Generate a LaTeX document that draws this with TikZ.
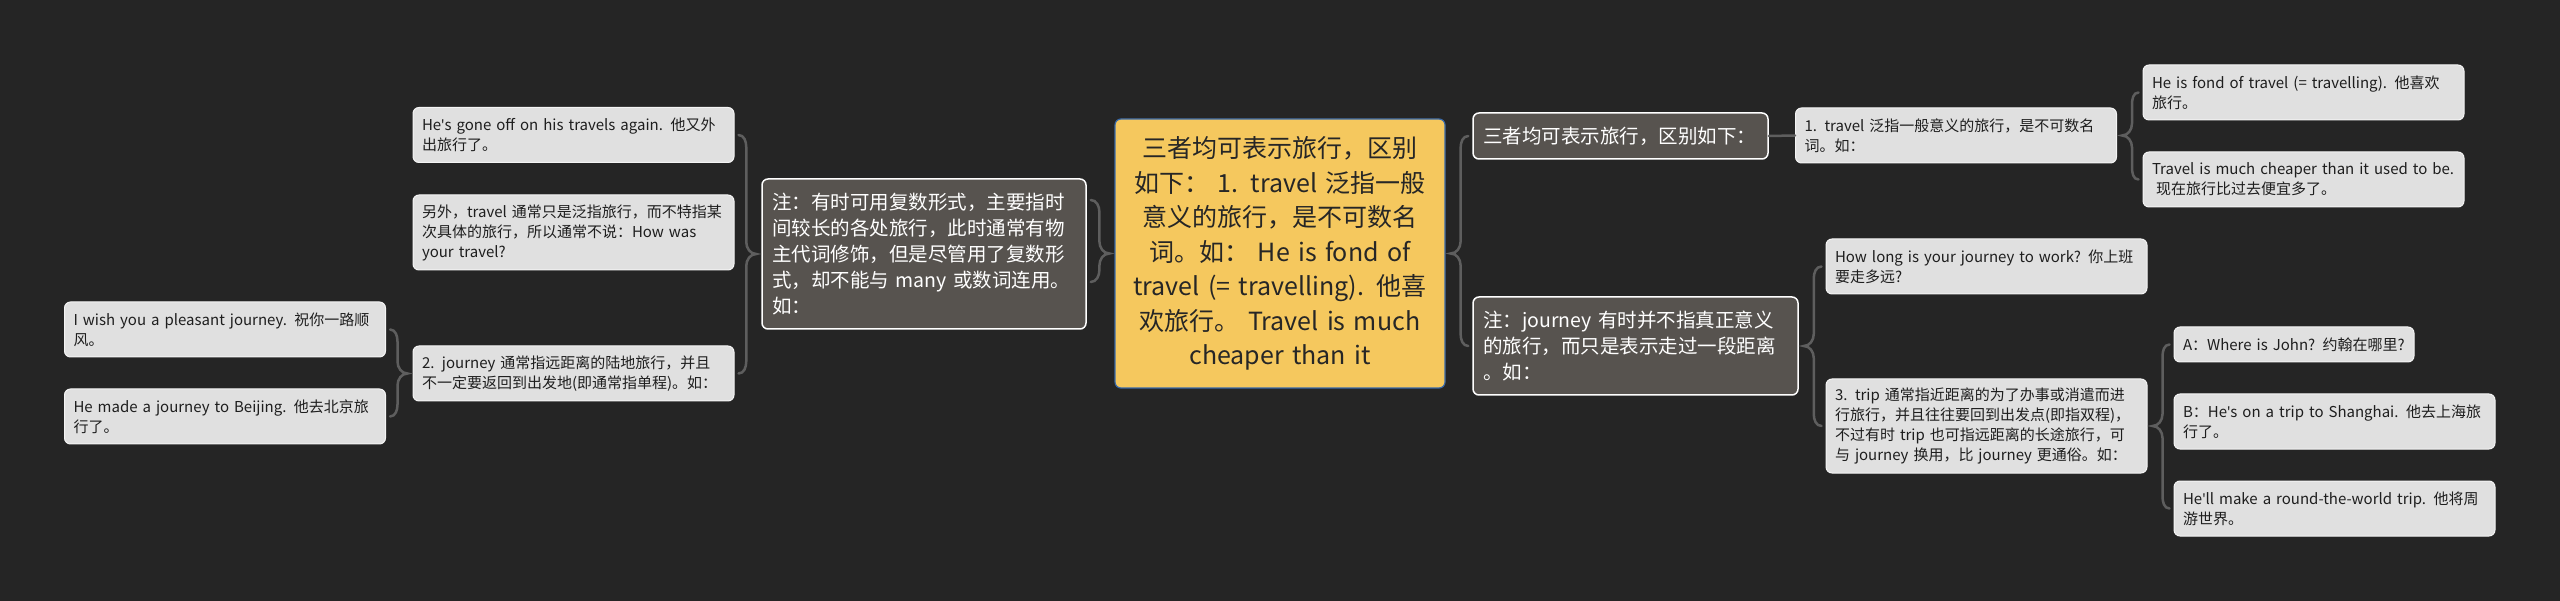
\documentclass[tikz,border=0pt]{standalone}
\usepackage{fontspec}
\setmainfont{Noto Sans CJK SC}
\newfontfamily\quotefont{Noto Sans}
\newcommand\apos{{\quotefont'}}
\usetikzlibrary{calc}

\definecolor{bggray}{HTML}{252525}
\definecolor{linkgray}{HTML}{5E5E5E}
\definecolor{rootfill}{HTML}{F5C85E}
\definecolor{rootline}{HTML}{3A6AA8}
\definecolor{darkfill}{HTML}{57534F}
\definecolor{leaffill}{HTML}{E0E0E0}
\definecolor{leafline}{HTML}{F4F4F4}
\definecolor{leaftext}{HTML}{1E1E1E}

% brace from a parent (#1) to children on its right, top child #2, bottom child #3
\newcommand\bracer[3]{%
  \draw[link] let \p1=#1, \p2=#2, \p3=#3 in
    (\x2-4pt,\y2) to[out=180,in=90] (\x1+15pt,\y2-12pt) -- (\x1+15pt,\y1+12pt)
    to[out=-90,in=0] (\x1+5pt,\y1) to[out=0,in=90] (\x1+15pt,\y1-12pt)
    -- (\x1+15pt,\y3+12pt) to[out=-90,in=180] (\x3-4pt,\y3);}
% the same with the children on the left
\newcommand\bracel[3]{%
  \draw[link] let \p1=#1, \p2=#2, \p3=#3 in
    (\x2+4pt,\y2) to[out=0,in=90] (\x1-15pt,\y2-12pt) -- (\x1-15pt,\y1+12pt)
    to[out=-90,in=180] (\x1-5pt,\y1) to[out=180,in=90] (\x1-15pt,\y1-12pt)
    -- (\x1-15pt,\y3+12pt) to[out=-90,in=0] (\x3+4pt,\y3);}

\begin{document}
\begin{tikzpicture}[x=1pt, y=-1pt,
  link/.style={draw=linkgray, line width=2.5pt, line cap=round},
  rootbox/.style={fill=rootfill, draw=rootline, line width=1.2pt, rounded corners=6pt,
    text=black!85, font=\fontsize{25}{34.5}\selectfont, align=center,
    inner xsep=10pt, inner ysep=0pt, text width=310pt, minimum height=269pt},
  darkbox/.style={fill=darkfill, draw=white, line width=1.5pt, rounded corners=6pt,
    text=white, font=\fontsize{19.5}{26}\selectfont, align=left,
    inner xsep=10pt, inner ysep=0pt},
  leafbox/.style={fill=leaffill, draw=leafline, line width=1pt, rounded corners=6pt,
    text=leaftext, font=\fontsize{15}{20}\selectfont, align=left,
    inner xsep=9pt, inner ysep=0pt, text width=303pt, minimum height=55pt}]
\fill[bggray] (0,0) rectangle (2560,601);
\useasboundingbox (0,0) rectangle (2560,601);

\node[rootbox] (root) at (1280,253.5) {三者均可表示旅行，区别\\如下： 1. travel 泛指一般\\意义的旅行，是不可数名\\词。如： He is fond of\\travel (= travelling). 他喜\\欢旅行。 Travel is much\\cheaper than it};

% left side
\node[darkbox, text width=304pt, minimum height=150pt] (lnote) at (924,254) {注：有时可用复数形式，主要指时\\间较长的各处旅行，此时通常有物\\主代词修饰，但是尽管用了复数形\\式，却不能与 many 或数词连用。\\如：};
\node[leafbox] (lgone) at (573.5,135) {He\apos s gone off on his travels again. 他又外\\出旅行了。};
\node[leafbox, minimum height=75pt] (lbesides) at (573.5,232.5) {另外，travel 通常只是泛指旅行，而不特指某\\次具体的旅行，所以通常不说：How was\\your travel?};
\node[leafbox] (ljourney) at (573.5,373.5) {2. journey 通常指远距离的陆地旅行，并且\\不一定要返回到出发地(即通常指单程)。如：};
\node[leafbox] (lwish) at (225,329.5) {I wish you a pleasant journey. 祝你一路顺\\风。};
\node[leafbox] (lbeijing) at (225,416.5) {He made a journey to Beijing. 他去北京旅\\行了。};

% right side
\node[darkbox, text width=275pt, minimum height=46pt] (rsum) at (1620.5,136) {三者均可表示旅行，区别如下：};
\node[darkbox, text width=305pt, minimum height=98pt] (rnote) at (1635.5,346) {注：journey 有时并不指真正意义\\的旅行，而只是表示走过一段距离\\。如：};
\node[leafbox] (rtravel) at (1956,135.5) {1. travel 泛指一般意义的旅行，是不可数名\\词。如：};
\node[leafbox] (rfond) at (2303.5,92.5) {He is fond of travel (= travelling). 他喜欢\\旅行。};
\node[leafbox] (rcheap) at (2303.5,179.5) {Travel is much cheaper than it used to be.\\\hspace*{4pt}现在旅行比过去便宜多了。};
\node[leafbox] (rlong) at (1986.5,266.5) {How long is your journey to work? 你上班\\要走多远?};
\node[leafbox, minimum height=94pt] (rtrip) at (1986.5,426) {3. trip 通常指近距离的为了办事或消遣而进\\行旅行，并且往往要回到出发点(即指双程)，\\不过有时 trip 也可指远距离的长途旅行，可\\与 journey 换用，比 journey 更通俗。如：};
\node[leafbox, text width=222pt, minimum height=35pt] (rwhere) at (2294,344.5) {A：Where is John? 约翰在哪里?};
\node[leafbox] (rshanghai) at (2334.5,421.5) {B：He\apos s on a trip to Shanghai. 他去上海旅\\行了。};
\node[leafbox] (rworld) at (2334.5,508.5) {He\apos ll make a round-the-world trip. 他将周\\游世界。};

% connectors
\coordinate (lnotetop) at ($(lnote.east)+(0,-54)$);
\coordinate (lnotebot) at ($(lnote.east)+(0,28)$);
\bracel{(root.west)}{(lnotetop)}{(lnotebot)}
\bracel{(lnote.west)}{(lgone.east)}{(ljourney.east)}
\bracel{(ljourney.west)}{(lwish.east)}{(lbeijing.east)}
\bracer{(root.east)}{(rsum.west)}{(rnote.west)}
\draw[link] (rsum.east) -- (rtravel.west);
\bracer{(rtravel.east)}{(rfond.west)}{(rcheap.west)}
\bracer{(rnote.east)}{(rlong.west)}{(rtrip.west)}
\bracer{(rtrip.east)}{(rwhere.west)}{(rworld.west)}
\end{tikzpicture}
\end{document}
